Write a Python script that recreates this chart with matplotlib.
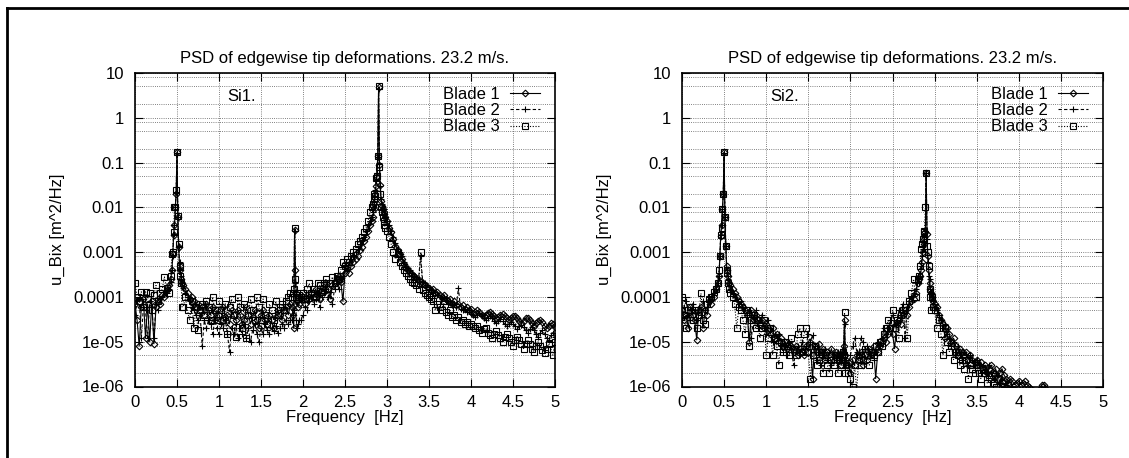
import numpy as np
import matplotlib
matplotlib.use('Agg')
import matplotlib.pyplot as plt
from matplotlib.lines import Line2D
from matplotlib.ticker import FixedLocator, FixedFormatter, NullFormatter

plt.rcParams['font.family'] = ['Liberation Sans', 'DejaVu Sans']
plt.rcParams['font.size'] = 12

# frequency [Hz], kept in blocks; finer steps around the peaks
freq_rows = [
    [0.000, 0.025, 0.050, 0.075, 0.100, 0.125, 0.150, 0.175, 0.200, 0.225, 0.250, 0.275, 0.300, 0.325, 0.350, 0.375, 0.400, 0.425],
    [0.44, 0.45, 0.46, 0.47, 0.48, 0.49, 0.50, 0.51, 0.52, 0.53, 0.54, 0.55, 0.56],
    [0.575, 0.600, 0.625, 0.650, 0.675, 0.700, 0.725, 0.750, 0.775, 0.800, 0.825, 0.850, 0.875, 0.900, 0.925, 0.950, 0.975,
     1.000, 1.025, 1.050, 1.075, 1.100, 1.125, 1.150, 1.175, 1.200],
    [1.225, 1.250, 1.275, 1.300, 1.325, 1.350, 1.375, 1.400, 1.425, 1.450, 1.475, 1.500, 1.525, 1.550, 1.575, 1.600, 1.625,
     1.650, 1.675, 1.700, 1.725, 1.750, 1.775, 1.800, 1.825, 1.850],
    [1.87, 1.88, 1.89, 1.90, 1.91, 1.92, 1.93, 1.94, 1.95],
    [1.975, 2.000, 2.025, 2.050, 2.075, 2.100, 2.125, 2.150, 2.175, 2.200, 2.225, 2.250, 2.275, 2.300, 2.325, 2.350, 2.375],
    [2.400, 2.425, 2.450, 2.475, 2.500, 2.525, 2.550, 2.575, 2.600, 2.625, 2.650, 2.675, 2.700, 2.725, 2.750, 2.775, 2.800],
    [2.82, 2.83, 2.84, 2.85, 2.86, 2.87, 2.88, 2.89, 2.90, 2.91, 2.92, 2.93, 2.94, 2.95, 2.96, 2.97, 2.98],
    [3.000, 3.025, 3.050, 3.075, 3.100, 3.125, 3.150, 3.175, 3.200, 3.225, 3.250, 3.275, 3.300, 3.325, 3.350, 3.375, 3.400,
     3.425, 3.450, 3.475],
    [3.500, 3.525, 3.550, 3.575, 3.600, 3.625, 3.650, 3.675, 3.700, 3.725, 3.750, 3.775, 3.800, 3.825, 3.850, 3.875, 3.900,
     3.925, 3.950, 3.975, 4.000],
    [4.025, 4.050, 4.075, 4.100, 4.125, 4.150, 4.175, 4.200, 4.225, 4.250, 4.275, 4.300, 4.325, 4.350, 4.375, 4.400, 4.425,
     4.450, 4.475, 4.500],
    [4.525, 4.550, 4.575, 4.600, 4.625, 4.650, 4.675, 4.700, 4.725, 4.750, 4.775, 4.800, 4.825, 4.850, 4.875, 4.900, 4.925,
     4.950, 4.975, 5.000],
]

# PSD of u_Bix [m^2/Hz], case Si1
si1_b1 = [
    [7e-5, 3e-5, 8e-6, 6e-5, 9e-5, 1.2e-5, 7e-5, 1e-5, 8e-5, 9e-6, 6e-5, 9e-5, 7e-5, 1.1e-4, 1e-4, 1.4e-4, 1.8e-4, 2.5e-4],
    [4e-4, 9e-4, 2.4e-3, 4e-3, 1e-2, 2e-2, 0.17, 6e-3, 1.3e-3, 5e-4, 4e-4, 2.5e-4, 2e-4],
    [1.8e-4, 1.5e-4, 1.2e-4, 9e-5, 1e-4, 8e-5, 6e-5, 7e-5, 5e-5, 6e-5, 4e-5, 7e-5, 5e-5, 4e-5, 6e-5, 3e-5, 5e-5,
     4e-5, 3e-5, 6e-5, 3.5e-5, 4e-5, 2.5e-5, 5e-5, 4e-5, 3e-5],
    [5e-5, 4e-5, 2.5e-5, 3e-5, 6e-5, 4e-5, 2.5e-5, 3.5e-5, 5e-5, 3e-5, 2e-5, 4e-5, 5e-5, 3e-5, 2.5e-5, 4e-5, 3e-5,
     2e-5, 3.5e-5, 5e-5, 4e-5, 3e-5, 5e-5, 6e-5, 4e-5, 7e-5],
    [6e-5, 4e-5, 2e-5, 3.2e-3, 4e-4, 1.2e-4, 8e-5, 6e-5, 7e-5],
    [9e-5, 1e-4, 7e-5, 1.1e-4, 9e-5, 1.2e-4, 1e-4, 1.5e-4, 1.2e-4, 9e-5, 1.6e-4, 1.3e-4, 2e-4, 1.5e-4, 9e-5, 1.8e-4, 2.2e-4],
    [2.5e-4, 3e-4, 2.2e-4, 8e-5, 3.5e-4, 4.5e-4, 3.5e-4, 5e-4, 6e-4, 7e-4, 8e-4, 1.1e-3, 1.3e-3, 1.8e-3, 2.2e-3, 3e-3, 4e-3],
    [5e-3, 6e-3, 9e-3, 1.2e-2, 2e-2, 3e-2, 5e-2, 0.14, 4.8, 0.09, 3.2e-2, 1.4e-2, 1.1e-2, 9e-3, 8e-3, 7e-3, 6e-3],
    [5e-3, 3.5e-3, 2.8e-3, 2e-3, 1.4e-3, 1.1e-3, 9e-4, 7e-4, 5.5e-4, 4.5e-4, 4e-4, 3.5e-4, 3.2e-4, 3e-4, 2.6e-4, 2.4e-4,
     2.2e-4, 2e-4, 1.8e-4, 1.7e-4],
    [1.6e-4, 1.4e-4, 1.5e-4, 1.2e-4, 1.3e-4, 1.1e-4, 1e-4, 1.1e-4, 9e-5, 8e-5, 9e-5, 7e-5, 8e-5, 6.5e-5, 7e-5, 6e-5,
     6.5e-5, 5.5e-5, 6e-5, 5e-5, 5.5e-5],
    [4.2e-5, 4.6e-5, 5e-5, 4.6e-5, 4e-5, 3.7e-5, 4e-5, 4.4e-5, 4.6e-5, 4.2e-5, 3.7e-5, 3.3e-5, 3.6e-5, 4e-5, 4.2e-5,
     3.8e-5, 3.3e-5, 3e-5, 3.3e-5, 3.7e-5],
    [3.8e-5, 3.4e-5, 2.9e-5, 2.6e-5, 2.9e-5, 3.3e-5, 3.4e-5, 3e-5, 2.6e-5, 2.3e-5, 2.6e-5, 2.9e-5, 3e-5, 2.7e-5, 2.3e-5,
     2e-5, 2.3e-5, 2.6e-5, 2.5e-5, 2.1e-5],
]
si1_b2 = [
    [4e-5, 8e-5, 9e-5, 1.2e-5, 6e-5, 5e-5, 1.2e-5, 8e-5, 6e-5, 1.2e-5, 7e-5, 5e-5, 9e-5, 1e-4, 1.3e-4, 1.2e-4, 1.5e-4, 2.2e-4],
    [4e-4, 8e-4, 2.5e-3, 4e-3, 1e-2, 2.2e-2, 0.16, 6e-3, 1.4e-3, 6e-4, 4e-4, 3e-4, 2e-4],
    [1.6e-4, 1.2e-4, 1e-4, 8e-5, 6e-5, 5e-5, 4e-5, 3e-5, 4e-5, 8e-6, 3e-5, 2e-5, 3e-5, 2.5e-5, 1.5e-5, 3e-5, 2e-5,
     1.5e-5, 2.5e-5, 2e-5, 3e-5, 1.5e-5, 6e-6, 2e-5, 1.5e-5, 2.5e-5],
    [1.2e-5, 2e-5, 1.5e-5, 2.5e-5, 1.2e-5, 2e-5, 1e-5, 1.8e-5, 2.5e-5, 1.5e-5, 1e-5, 2e-5, 1.5e-5, 2.5e-5, 1.8e-5, 1.5e-5,
     2e-5, 1.7e-5, 2.2e-5, 1.6e-5, 2e-5, 2.5e-5, 2e-5, 3e-5, 2.5e-5, 3e-5],
    [3e-5, 4e-5, 5e-5, 3e-3, 2e-4, 3e-5, 2e-5, 2.5e-5, 3e-5],
    [3e-5, 4e-5, 6e-5, 5e-5, 8e-5, 1e-4, 7e-5, 9e-5, 1.2e-4, 6e-5, 1e-4, 1.2e-4, 1.5e-4, 1e-4, 1.3e-4, 7e-5, 1.5e-4],
    [2e-4, 1.5e-4, 2.5e-4, 3e-4, 5e-4, 4e-4, 6e-4, 7e-4, 8e-4, 1e-3, 1.2e-3, 1.5e-3, 1.8e-3, 2.2e-3, 3e-3, 4e-3, 5e-3],
    [6e-3, 8e-3, 1e-2, 1.5e-2, 2.5e-2, 4e-2, 6e-2, 0.13, 4.5, 0.1, 3e-2, 1.5e-2, 1.2e-2, 1e-2, 9e-3, 7e-3, 6e-3],
    [5e-3, 4e-3, 3e-3, 2.2e-3, 1.6e-3, 1.2e-3, 1e-3, 8e-4, 6e-4, 5e-4, 4.5e-4, 4e-4, 3.5e-4, 3e-4, 2.8e-4, 2.5e-4,
     8e-4, 2.2e-4, 2e-4, 1.8e-4],
    [1.5e-4, 1.4e-4, 1.2e-4, 1.3e-4, 1.1e-4, 1e-4, 9e-5, 1e-4, 8e-5, 7e-5, 8e-5, 6.5e-5, 7e-5, 6e-5, 1.6e-4, 5.5e-5,
     5e-5, 5.5e-5, 4.5e-5, 5e-5, 4.2e-5],
    [4e-5, 3.6e-5, 4e-5, 4.3e-5, 3.8e-5, 3.3e-5, 3e-5, 3.4e-5, 3.7e-5, 3.3e-5, 2.9e-5, 2.6e-5, 2.9e-5, 3.2e-5, 2.9e-5,
     2.5e-5, 2.2e-5, 2.5e-5, 2.8e-5, 2.5e-5],
    [2.2e-5, 1.9e-5, 2.2e-5, 2.4e-5, 2.1e-5, 1.8e-5, 1.6e-5, 1.9e-5, 2.1e-5, 1.8e-5, 1.5e-5, 1.3e-5, 1.6e-5, 1.8e-5,
     1.5e-5, 1.2e-5, 1.1e-5, 1.4e-5, 1.6e-5, 1.3e-5],
]
si1_b3 = [
    [2e-4, 1e-4, 8e-5, 1.3e-4, 6e-5, 1.3e-4, 9e-5, 1.2e-4, 5e-5, 1.1e-4, 1.8e-4, 8e-5, 1.2e-4, 1.5e-4, 2.8e-4, 1.6e-4, 1.2e-4, 3e-4],
    [9e-4, 1e-3, 2.8e-3, 1e-2, 1e-2, 2.5e-2, 0.17, 6.5e-3, 1.5e-3, 3e-4, 5e-4, 2e-4, 6e-5],
    [6e-5, 1e-4, 5e-5, 3e-5, 8e-5, 2e-5, 6e-5, 1.8e-5, 5e-5, 7e-5, 4e-5, 8e-5, 6e-5, 3e-5, 1e-4, 5e-5, 3e-5, 8e-5,
     5e-5, 3e-5, 7e-5, 1.5e-5, 6e-5, 9e-5, 4e-5, 1.3e-5],
    [1e-4, 6e-5, 2e-5, 7e-5, 1.2e-5, 4e-5, 9e-5, 5e-5, 3e-5, 1e-4, 6e-5, 3e-5, 9e-5, 4e-5, 2.5e-5, 7e-5, 5e-5, 3e-5,
     8e-5, 4e-5, 6e-5, 7e-5, 5e-5, 8e-5, 1e-4, 1.2e-4],
    [1e-4, 1.2e-4, 1.5e-4, 3.4e-3, 2.5e-4, 1e-4, 1.2e-4, 9e-5, 1.1e-4],
    [1e-4, 1.2e-4, 9e-5, 1.5e-4, 2e-4, 1.2e-4, 1.5e-4, 1e-4, 2e-4, 1.8e-4, 1.3e-4, 2e-4, 2.5e-4, 1.5e-4, 2e-4, 2.8e-4, 2e-4],
    [3e-4, 2.5e-4, 4e-4, 6e-4, 5e-4, 7e-4, 6e-4, 8e-4, 1e-3, 1.2e-3, 1.5e-3, 1.8e-3, 2.2e-3, 2.8e-3, 3.5e-3, 5e-3, 8e-3],
    [1e-2, 1.2e-2, 1.5e-2, 2e-2, 1.8e-2, 4.5e-2, 5e-2, 0.14, 5.0, 0.08, 2e-2, 1e-2, 8e-3, 6e-3, 5e-3, 4e-3, 3.5e-3],
    [3e-3, 2.2e-3, 1.5e-3, 1e-3, 7e-4, 9e-4, 6e-4, 5e-4, 4e-4, 3.5e-4, 3e-4, 2.5e-4, 2.2e-4, 2e-4, 1.8e-4, 1.5e-4,
     1e-3, 1.4e-4, 1.2e-4, 1.1e-4],
    [1e-4, 9e-5, 8e-5, 5e-5, 7e-5, 6e-5, 5e-5, 8e-5, 4.5e-5, 4e-5, 5e-5, 3.5e-5, 4e-5, 3e-5, 3.5e-5, 2.8e-5, 3e-5,
     2.5e-5, 2.8e-5, 2.3e-5, 2.5e-5],
    [2.2e-5, 2e-5, 2.3e-5, 1.8e-5, 1.6e-5, 1.9e-5, 2e-5, 1.6e-5, 1.4e-5, 1.2e-5, 1.5e-5, 1.7e-5, 1.4e-5, 1.2e-5, 1e-5,
     1.3e-5, 1.5e-5, 1.2e-5, 1e-5, 8e-6],
    [1.1e-5, 1.3e-5, 1.1e-5, 9e-6, 7e-6, 9e-6, 1.1e-5, 9e-6, 7e-6, 6e-6, 8e-6, 1e-5, 8e-6, 6.5e-6, 5.5e-6, 7e-6, 9e-6,
     7e-6, 5e-6, 1e-5],
]

# case Si2
si2_b1 = [
    [5e-5, 3e-5, 4e-5, 2e-5, 6e-5, 4e-5, 3e-5, 1.1e-5, 5e-5, 6e-5, 2e-5, 5e-5, 4e-5, 8e-5, 7e-5, 1e-4, 1.5e-4, 2e-4],
    [3e-4, 8e-4, 2.3e-3, 4e-3, 9e-3, 2e-2, 0.17, 6e-3, 1.4e-3, 5e-4, 4e-4, 3e-4, 2e-4],
    [1.8e-4, 1.5e-4, 1.2e-4, 1e-4, 8e-5, 7e-5, 6e-5, 5e-5, 4e-5, 1e-5, 5e-5, 3e-5, 4e-5, 3e-5, 2.5e-5, 3e-5, 2e-5,
     2.5e-5, 1.8e-5, 1.5e-5, 2e-5, 1.2e-5, 1.5e-5, 1e-5, 1.2e-5, 8e-6],
    [1e-5, 7e-6, 9e-6, 8e-6, 6e-6, 8e-6, 5e-6, 7e-6, 6e-6, 5e-6, 8e-6, 6e-6, 1e-5, 1.5e-6, 8e-6, 6e-6, 9e-6, 5e-6,
     7e-6, 4e-6, 6e-6, 5e-6, 7e-6, 4e-6, 6e-6, 5e-6],
    [4e-6, 5e-6, 3e-6, 4e-6, 6e-6, 8e-6, 3e-5, 5e-6, 4e-6],
    [3e-6, 2e-6, 4e-6, 3e-6, 5e-6, 4e-6, 6e-6, 3e-6, 5e-6, 4e-6, 7e-6, 5e-6, 8e-6, 1.5e-6, 6e-6, 8e-6, 1e-5],
    [1.2e-5, 1e-5, 1.5e-5, 2e-5, 1.5e-5, 7e-6, 2.5e-5, 3e-5, 2.5e-5, 4e-5, 5e-5, 4e-5, 6e-5, 8e-5, 9e-5, 1.2e-4, 2e-4],
    [2.5e-4, 3e-4, 4e-4, 6e-4, 1e-3, 1.5e-3, 2e-3, 2.8e-3, 0.06, 2.5e-3, 8e-4, 4e-4, 2e-4, 1.5e-4, 1.2e-4, 1e-4, 8e-5],
    [7e-5, 6e-5, 4e-5, 3e-5, 2.5e-5, 1.2e-5, 2e-5, 1.5e-5, 1e-5, 1.2e-5, 8e-6, 5e-6, 7e-6, 6e-6, 5e-6, 6e-6, 4e-6,
     5e-6, 4e-6, 3.5e-6],
    [4e-6, 3e-6, 3.5e-6, 2.5e-6, 3e-6, 2e-6, 2.5e-6, 3e-6, 2e-6, 2.5e-6, 1.5e-6, 2e-6, 2.5e-6, 1.8e-6, 1.5e-6, 1.2e-6,
     1.5e-6, 1.3e-6, 1.1e-6, 1.2e-6, 1.3e-6],
    [1.1e-6, 1.2e-6, 1.3e-6, 1.1e-6, 1e-6, 9e-7, 8e-7, 7e-7, 8e-7, 9e-7, 1.1e-6, 1.1e-6, 9e-7, 8e-7, 6e-7, 5e-7, 5e-7,
     4e-7, 4e-7, 3e-7],
    [3e-7, 3e-7, 2.5e-7, 2.5e-7, 2e-7, 2e-7, 2e-7, 1.8e-7, 1.8e-7, 1.5e-7, 1.5e-7, 1.5e-7, 1.3e-7, 1.3e-7, 1.2e-7,
     1.2e-7, 1.1e-7, 1.1e-7, 1e-7, 1e-7],
]
si2_b2 = [
    [3e-5, 6e-5, 8e-5, 4e-5, 3e-5, 7e-5, 5e-5, 3e-5, 6e-5, 4e-5, 8e-5, 5e-5, 6e-5, 1e-4, 8e-5, 1.2e-4, 1.5e-4, 2e-4],
    [3e-4, 8e-4, 2.4e-3, 4e-3, 9e-3, 2e-2, 0.16, 6e-3, 1.4e-3, 4e-4, 3.5e-4, 2.5e-4, 2e-4],
    [1.5e-4, 1.2e-4, 1e-4, 9e-5, 7e-5, 8e-5, 5e-5, 6e-5, 4e-5, 5e-5, 1.2e-5, 4e-5, 5e-5, 2e-5, 3e-5, 4e-5, 2e-5,
     1.5e-5, 3e-5, 2e-5, 1e-5, 1.5e-5, 1.2e-5, 1.5e-5, 8e-6, 6e-6],
    [8e-6, 5e-6, 1e-5, 7e-6, 3e-6, 6e-6, 8e-6, 5e-6, 1e-5, 6e-6, 8e-6, 1.5e-5, 1e-5, 1.4e-5, 8e-6, 4e-6, 6e-6, 3e-6,
     5e-6, 7e-6, 4e-6, 6e-6, 3e-6, 5e-6, 4e-6, 6e-6],
    [5e-6, 6e-6, 4e-6, 5e-6, 7e-6, 6e-6, 2.5e-5, 3e-6, 4e-6],
    [3e-6, 5e-6, 8e-6, 1.2e-5, 6e-6, 5e-6, 1.2e-5, 1e-5, 7e-6, 8e-6, 6e-6, 5e-6, 4e-6, 6e-6, 1e-5, 8e-6, 1.2e-5],
    [2e-5, 1.5e-5, 2e-5, 3e-5, 4e-5, 2.5e-5, 3e-5, 5e-5, 4e-5, 7e-5, 1.2e-5, 6e-5, 8e-5, 1e-4, 1.2e-4, 1.5e-4, 3e-4],
    [2e-4, 3e-4, 5e-4, 8e-4, 1.2e-3, 1.8e-3, 2.2e-3, 3e-3, 0.058, 2e-3, 6e-4, 3e-4, 2.5e-4, 1.5e-4, 1.2e-4, 1e-4, 8e-5],
    [6e-5, 5e-5, 4e-5, 3e-5, 2e-5, 2.5e-5, 1.5e-5, 1.2e-5, 8e-6, 1e-5, 6e-6, 8e-6, 5e-6, 4e-6, 6e-6, 5e-6, 3e-6,
     5e-6, 4e-6, 3e-6],
    [4e-6, 3e-6, 2e-6, 3e-6, 2.5e-6, 2e-6, 3e-6, 2e-6, 1.5e-6, 2e-6, 1.8e-6, 1.2e-6, 1.5e-6, 1e-6, 1.2e-6, 1e-6,
     9e-7, 1e-6, 8e-7, 7e-7, 8e-7],
    [7e-7, 6e-7, 6e-7, 5e-7, 5e-7, 4e-7, 4e-7, 4e-7, 3.5e-7, 3e-7, 3e-7, 2.8e-7, 2.5e-7, 2.5e-7, 2.2e-7, 2e-7, 2e-7,
     1.8e-7, 1.8e-7, 1.6e-7],
    [1.5e-7, 1.5e-7, 1.4e-7, 1.4e-7, 1.3e-7, 1.3e-7, 1.2e-7, 1.2e-7, 1.2e-7, 1.1e-7, 1.1e-7, 1.1e-7, 1e-7, 1e-7,
     1e-7, 1e-7, 1e-7, 1e-7, 1e-7, 1e-7],
]
si2_b3 = [
    [1e-4, 4e-5, 2e-5, 5e-5, 6e-5, 3e-5, 5e-5, 2e-5, 4e-5, 1.2e-4, 3e-5, 2.5e-5, 7e-5, 9e-5, 1e-4, 1.3e-4, 1.5e-4, 2e-4],
    [4e-4, 8e-4, 2.4e-3, 3.5e-3, 9e-3, 2e-2, 0.17, 6e-3, 1.4e-3, 4e-4, 3.5e-4, 2e-4, 1.5e-4],
    [1.2e-4, 1e-4, 7e-5, 2e-5, 6e-5, 5e-5, 3e-5, 1.5e-5, 5e-5, 8e-6, 3e-5, 4e-5, 2e-5, 3e-5, 1.2e-5, 2e-5, 3e-5,
     5e-6, 1.2e-5, 2e-5, 5e-6, 1.2e-5, 8e-6, 3e-6, 1e-5, 6e-6],
    [1e-5, 8e-6, 5e-6, 1.2e-5, 7e-6, 5e-6, 1.5e-5, 2e-5, 6e-6, 1.5e-5, 2e-5, 6e-6, 1.5e-6, 5e-6, 8e-6, 3e-6, 4e-6,
     6e-6, 2e-6, 5e-6, 3e-6, 2e-6, 4e-6, 3e-6, 5e-6, 2e-6],
    [4e-6, 5e-6, 3e-6, 4e-6, 6e-6, 5e-6, 4.5e-5, 2e-6, 3e-6],
    [2e-6, 1.5e-6, 1e-6, 3e-6, 8e-7, 5e-6, 3e-6, 4e-6, 7e-6, 5e-6, 3e-6, 6e-6, 5e-6, 8e-6, 6e-6, 1e-5, 8e-6],
    [1.5e-5, 2e-5, 3e-5, 2e-5, 5e-5, 2e-5, 3e-5, 1.2e-5, 4e-5, 5e-5, 6e-5, 1.2e-5, 8e-5, 1.2e-4, 2.5e-4, 1e-4, 2.5e-4],
    [3e-4, 5e-4, 1.2e-3, 1.5e-3, 2e-3, 3e-3, 2.8e-3, 1e-2, 0.06, 1.4e-3, 1e-3, 5e-4, 1.5e-4, 1e-4, 5e-5, 1e-4, 6e-5],
    [5e-5, 2e-5, 3e-5, 1.5e-5, 5e-6, 2e-5, 1e-5, 6e-6, 8e-6, 4e-6, 6e-6, 5e-6, 3e-6, 4e-6, 2.5e-6, 4e-6, 1.5e-6,
     3e-6, 2.5e-6, 2e-6],
    [3e-6, 2e-6, 1.5e-6, 2.5e-6, 2e-6, 1.2e-6, 1.8e-6, 1.5e-6, 1.2e-6, 1e-6, 1.5e-6, 8e-7, 1.2e-6, 1e-6, 8e-7, 1.1e-6,
     7e-7, 9e-7, 6e-7, 7e-7, 5e-7],
    [5e-7, 4.5e-7, 4e-7, 4e-7, 3.5e-7, 3e-7, 3e-7, 2.5e-7, 2.5e-7, 2.2e-7, 2e-7, 2e-7, 1.8e-7, 1.8e-7, 1.6e-7, 1.5e-7,
     1.5e-7, 1.4e-7, 1.3e-7, 1.3e-7],
    [1.2e-7, 1.2e-7, 1.1e-7, 1.1e-7, 1.1e-7, 1e-7, 1e-7, 1e-7, 1e-7, 1e-7, 1e-7, 1e-7, 1e-7, 1e-7, 1e-7, 1e-7, 1e-7,
     1e-7, 1e-7, 1e-7],
]

for s in (si1_b1, si1_b2, si1_b3, si2_b1, si2_b2, si2_b3):
    assert len(s) == len(freq_rows)
    for r, fr in zip(s, freq_rows):
        assert len(r) == len(fr), (fr[0], len(r), len(fr))

freq = sum(freq_rows, [])
flat = lambda rows: sum(rows, [])

blade_names = ['Blade 1', 'Blade 2', 'Blade 3']
ytick_vals = [1e-6, 1e-5, 1e-4, 1e-3, 1e-2, 1e-1, 1, 10]
ytick_txt = ['1e-06', '1e-05', '0.0001', '0.001', '0.01', '0.1', '1', '10']
xtick_vals = [0, 0.5, 1, 1.5, 2, 2.5, 3, 3.5, 4, 4.5, 5]
xtick_txt = ['0', '0.5', '1', '1.5', '2', '2.5', '3', '3.5', '4', '4.5', '5']

styles = [dict(ls='-', marker='D', ms=3.4, mfc='none'),
          dict(ls=(0, (3, 2)), marker='+', ms=5),
          dict(ls=(0, (1, 1.5)), marker='s', ms=4, mfc='none')]

W, H = 1129, 458
fig = plt.figure(figsize=(W / 100, H / 100), dpi=100)
dotted = (0, (1, 1.6))


def draw_panel(ax, series, tag, tagx):
    for vals, name, st in zip(series, blade_names, styles):
        ax.plot(freq, flat(vals), color='k', lw=0.8, mew=0.8, mec='k', label=name, **st)
    ax.set_yscale('log')
    ax.set_xlim(0, 5)
    ax.set_ylim(1e-6, 10)
    ax.xaxis.set_major_locator(FixedLocator(xtick_vals))
    ax.xaxis.set_major_formatter(FixedFormatter(xtick_txt))
    ax.yaxis.set_major_locator(FixedLocator(ytick_vals))
    ax.yaxis.set_major_formatter(FixedFormatter(ytick_txt))
    minors = [m * d for d in ytick_vals[:-1] for m in (2, 5, 8)]
    ax.yaxis.set_minor_locator(FixedLocator(minors))
    ax.yaxis.set_minor_formatter(NullFormatter())
    ax.tick_params(which='major', direction='in', length=6, width=0.8,
                   top=True, right=True, labelsize=12)
    ax.tick_params(axis='x', which='major', pad=6)
    ax.tick_params(axis='y', which='major', pad=8)
    ax.tick_params(which='minor', length=0, top=True, right=True)
    ax.grid(True, which='major', color='0.35', lw=0.6, ls=dotted)
    ax.grid(True, which='minor', axis='y', color='0.35', lw=0.6, ls=dotted)
    for sp in ax.spines.values():
        sp.set_linewidth(1.2)
    ax.set_title('PSD of edgewise tip deformations. 23.2 m/s.', fontsize=12, pad=7)
    ax.set_xlabel('Frequency  [Hz]', fontsize=12, labelpad=0)
    ax.set_ylabel('u_Bix [m^2/Hz]', fontsize=12, labelpad=6)
    ax.text(tagx, 3.0, tag, fontsize=12, ha='left', va='center')
    ax.legend(loc='upper right', bbox_to_anchor=(1 - 15 / 420, 1 - 14 / 313),
              borderaxespad=0, borderpad=0, frameon=False, markerfirst=False,
              numpoints=1, handlelength=1.8, handletextpad=0.6, labelspacing=0.07,
              fontsize=12)


bot = (H - 386.5) / H
hgt = 313.5 / H
ax1 = fig.add_axes([135 / W, bot, 420 / W, hgt])
ax2 = fig.add_axes([682 / W, bot, 421 / W, hgt])
draw_panel(ax1, [si1_b1, si1_b2, si1_b3], 'Si1.', 1.10)
draw_panel(ax2, [si2_b1, si2_b2, si2_b3], 'Si2.', 1.05)

# outer frame of the original page (top and left edges only)
yb = 1 - 8 / H
xb = 7 / W
fig.add_artist(Line2D([xb, 1], [yb, yb], color='k', lw=2, transform=fig.transFigure))
fig.add_artist(Line2D([xb, xb], [0, yb], color='k', lw=2, transform=fig.transFigure))

fig.savefig('out.png', dpi=100)
